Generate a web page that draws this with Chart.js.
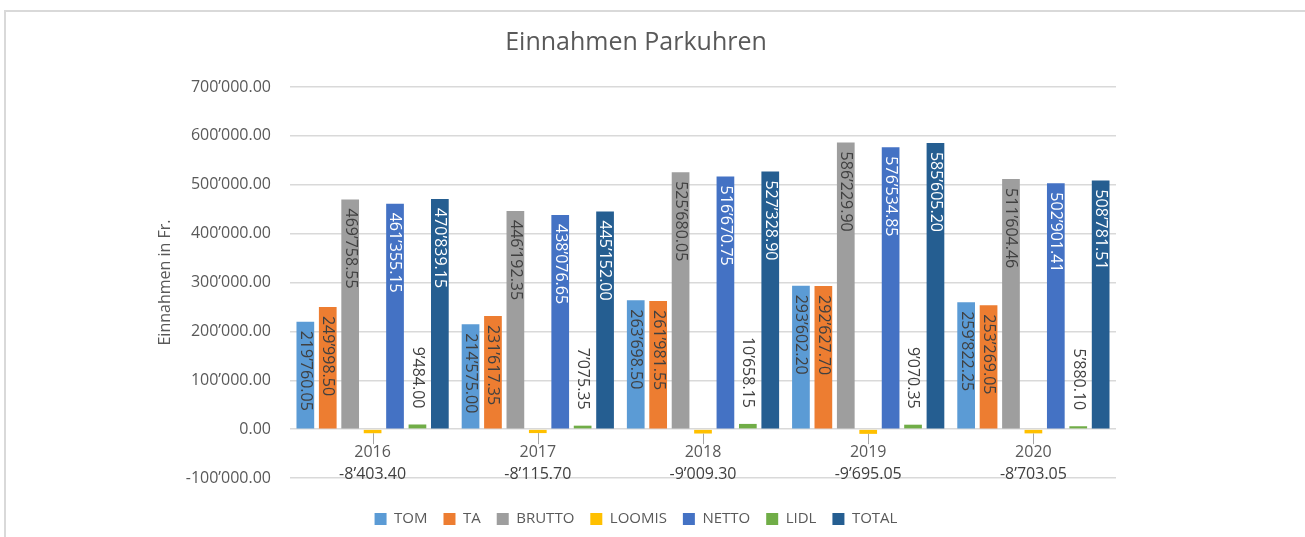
<!DOCTYPE html>
<html>
<head>
<meta charset="utf-8">
<script src="https://cdn.jsdelivr.net/npm/chart.js@4"></script>
<style>
    html, body { margin: 0; padding: 0; background: #fff; overflow: hidden; }
    #frame { position: absolute; left: 4px; top: 10px; width: 1400px; height: 700px; border: 2px solid #d9d9d9; }
    #wrap { position: absolute; left: 0; top: 0; width: 1305px; height: 537px; }
</style>
</head>
<body>
<div id="frame"></div>
<div id="wrap"><canvas id="myChart"></canvas></div>
<script>
var years = ['2016', '2017', '2018', '2019', '2020'];
var tom = [219760.05, 214575.00, 263698.50, 293602.20, 259822.25];
var ta = [249998.50, 231617.35, 261981.55, 292627.70, 253269.05];
var brutto = [469758.55, 446192.35, 525680.05, 586229.90, 511604.46];
var loomis = [-8403.40, -8115.70, -9009.30, -9695.05, -8703.05];
var netto = [461355.15, 438076.65, 516670.75, 576534.85, 502901.41];
var lidl = [9484.00, 7075.35, 10658.15, 9070.35, 5880.10];
var total = [470839.15, 445152.00, 527328.90, 585605.20, 508781.51];

var yMin = -100000;
var yMax = 700000;
var yStep = 100000;

var textColor = '#595959';
var fontFamily = '"Open Sans", sans-serif';

// 1234567.5 -> 1’234’567.50
function fmt(v) {
    var parts = Math.abs(v).toFixed(2).split('.');
    var intPart = parts[0].replace(/\B(?=(\d{3})+(?!\d))/g, '\u2019');
    return (v < 0 ? '-' : '') + intPart + '.' + parts[1];
}

// value labels: rotated inside the bar top, above small bars, or under the axis with a leader line
var valueLabels = {
    id: 'valueLabels',
    afterDatasetsDraw: function(chart) {
        var ctx = chart.ctx;
        var zeroY = chart.scales.y.getPixelForValue(0);
        chart.data.datasets.forEach(function(ds, di) {
            var meta = chart.getDatasetMeta(di);
            if (meta.hidden) return;
            meta.data.forEach(function(bar, i) {
                var text = fmt(ds.data[i]);
                ctx.save();
                ctx.font = '16px ' + fontFamily;
                ctx.fillStyle = ds.labelColor;
                if (ds.labelPos === 'below') {
                    var lx = Math.round(bar.x) + 0.5;
                    ctx.strokeStyle = '#a6a6a6';
                    ctx.lineWidth = 1;
                    ctx.beginPath();
                    ctx.moveTo(lx, bar.y);
                    ctx.lineTo(lx, zeroY + 15);
                    ctx.stroke();
                    ctx.textAlign = 'center';
                    ctx.textBaseline = 'middle';
                    ctx.fillText(text, bar.x, zeroY + 45);
                } else {
                    var inside = ds.labelPos === 'inside';
                    ctx.translate(bar.x, inside ? bar.y + 9 : bar.y - 16);
                    ctx.rotate(Math.PI / 2);
                    ctx.textAlign = inside ? 'left' : 'right';
                    ctx.textBaseline = 'middle';
                    ctx.fillText(text, 0, 0);
                }
                ctx.restore();
            });
        });
    }
};

function series(label, data, color, labelPos, labelColor) {
    return {
        label: label,
        data: data,
        backgroundColor: color,
        borderWidth: 0,
        categoryPercentage: 0.95,
        barPercentage: 0.79,
        labelPos: labelPos,
        labelColor: labelColor
    };
}

var ctx = document.getElementById('myChart').getContext('2d');
var myChart = new Chart(ctx, {
    type: 'bar',
    data: {
        labels: years,
        datasets: [
            series('TOM', tom, '#5b9bd5', 'inside', '#404040'),
            series('TA', ta, '#ed7d31', 'inside', '#404040'),
            series('BRUTTO', brutto, '#9e9e9e', 'inside', '#404040'),
            series('LOOMIS', loomis, '#ffc000', 'below', '#404040'),
            series('NETTO', netto, '#4472c4', 'inside', '#ffffff'),
            series('LIDL', lidl, '#70ad47', 'above', '#404040'),
            series('TOTAL', total, '#255e91', 'inside', '#ffffff')
        ]
    },
    plugins: [valueLabels],
    options: {
        responsive: true,
        maintainAspectRatio: false,
        animation: false,
        layout: {
            padding: { left: 0, right: 33, top: 0, bottom: 0.5 }
        },
        plugins: {
            title: {
                display: true,
                text: 'Einnahmen Parkuhren',
                color: textColor,
                font: { family: fontFamily, size: 25, weight: 'normal' },
                padding: { top: 28, bottom: 29 }
            },
            legend: {
                position: 'bottom',
                title: {
                    display: true,
                    text: '',
                    font: { size: 10 },
                    padding: { top: 5.5, bottom: 0 }
                },
                labels: {
                    boxWidth: 12,
                    boxHeight: 12,
                    padding: 16,
                    color: textColor,
                    font: { family: fontFamily, size: 15 }
                }
            },
            tooltip: { enabled: false }
        },
        scales: {
            x: {
                position: { y: 0 },
                grid: { display: false, drawTicks: false },
                border: { display: false },
                ticks: {
                    padding: 14,
                    color: textColor,
                    font: { family: fontFamily, size: 16 }
                }
            },
            y: {
                min: yMin,
                max: yMax,
                grid: { color: '#d9d9d9', lineWidth: 1.5, drawTicks: false },
                border: { display: false },
                ticks: {
                    stepSize: yStep,
                    padding: 19,
                    color: textColor,
                    font: { family: fontFamily, size: 16 },
                    callback: function(value) { return fmt(value); }
                },
                title: {
                    display: true,
                    text: 'Einnahmen in Fr.',
                    color: textColor,
                    font: { family: fontFamily, size: 16 },
                    padding: { top: 156, bottom: 0 }
                },
                afterFit: function(scale) { scale.width = 290; }
            },
            // empty right-hand column so the plot ends short of the frame
            spacer: {
                type: 'linear',
                axis: 'y',
                position: 'right',
                grid: { display: false },
                border: { display: false },
                ticks: { display: false },
                afterFit: function(scale) { scale.width = 156; }
            }
        }
    }
});
</script>
</body>
</html>
